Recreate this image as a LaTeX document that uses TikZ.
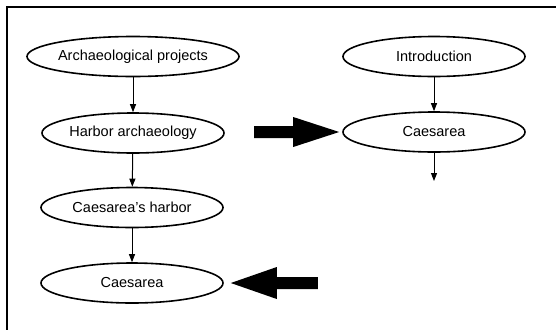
\documentclass[tikz,border=0pt]{standalone}
\usepackage{fontspec}
\setmainfont{Liberation Sans}
\usetikzlibrary{shapes.geometric,arrows.meta}
\begin{document}
\begin{tikzpicture}[x=1pt,y=-1pt,
  oval/.style={ellipse,draw,line width=1.6pt,minimum width=182pt,minimum height=40pt,inner sep=0pt,font=\fontsize{14.5}{16}\selectfont},
  link/.style={-{Triangle[length=8pt,width=6pt]},line width=1pt},
  bigarrow/.style={fill=black}]
\useasboundingbox (0,0) rectangle (556,330);
\draw[line width=1.3pt] (556,7) -- (7,7) -- (7,330);
\node[oval] (ap) at (133,56.5) {Archaeological projects};
\node[oval] (ha) at (133,133) {Harbor archaeology};
\node[oval] (ch) at (132,207.5) {Caesarea's harbor};
\node[oval] (cl) at (132,283) {Caesarea};
\node[oval] (in) at (434,56.5) {Introduction};
\node[oval] (cr) at (434,132) {Caesarea};
\coordinate (end) at (434,181);
\draw[link] (ap) -- (ha);
\draw[link] (ha) -- (ch);
\draw[link] (ch) -- (cl);
\draw[link] (in) -- (cr);
\draw[link] (cr) -- (end);
\coordinate (rt) at ([xshift=-3pt]cr.west);
\coordinate (lt) at ([xshift=7pt]cl.east);
\fill[bigarrow] (rt) -- ++(-46,-15) -- ++(0,9) -- ++(-39,0) -- ++(0,12) -- ++(39,0) -- ++(0,9) -- cycle;
\fill[bigarrow] (lt) -- ++(46,-16) -- ++(0,10) -- ++(41,0) -- ++(0,12) -- ++(-41,0) -- ++(0,10) -- cycle;
\end{tikzpicture}
\end{document}
